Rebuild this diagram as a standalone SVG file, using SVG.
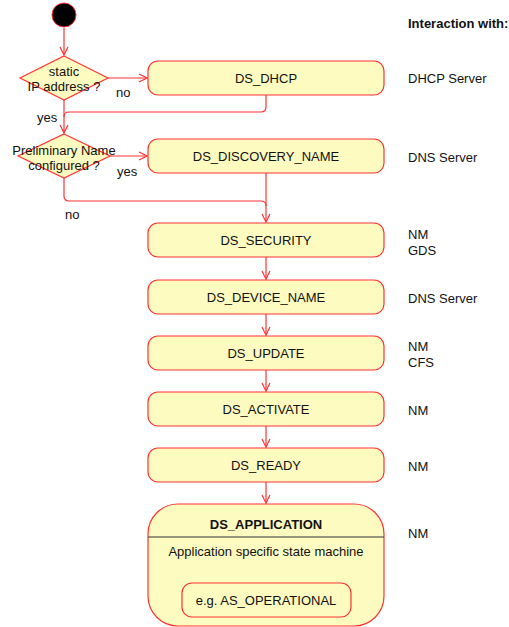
<svg xmlns="http://www.w3.org/2000/svg" width="509" height="627" viewBox="0 0 509 627">
<style>
text{font-family:"Liberation Sans",Arial,sans-serif;font-size:13px;fill:#111}
.c{text-anchor:middle}
.b{font-weight:bold}
.box{fill:#FEFBC0;stroke:#FF3333;stroke-width:1.2}
.ln{fill:none;stroke:#FF3333;stroke-width:1.2}
</style>
<defs>
<marker id="ah" markerWidth="10" markerHeight="10" refX="9" refY="5" orient="auto" markerUnits="userSpaceOnUse">
<path d="M1,1 L9,5 L1,9" fill="none" stroke="#FF3333" stroke-width="1.2"/>
</marker>
</defs>
<rect width="509" height="627" fill="#fff"/>
<g id="connectors">
<path class="ln" d="M64,28 V55" marker-end="url(#ah)"/>
<path class="ln" d="M108,78 H147" marker-end="url(#ah)"/>
<path class="ln" d="M266,95 V107 Q266,112 261,112 H69 Q64,112 64,117"/>
<path class="ln" d="M64,100 V133" marker-end="url(#ah)"/>
<path class="ln" d="M110,156 H147" marker-end="url(#ah)"/>
<path class="ln" d="M64,178 V196 Q64,201 69,201 H261 Q266,201 266,206"/>
<path class="ln" d="M266,173 V222" marker-end="url(#ah)"/>
<path class="ln" d="M266,257 V279" marker-end="url(#ah)"/>
<path class="ln" d="M266,314 V335" marker-end="url(#ah)"/>
<path class="ln" d="M266,370 V391" marker-end="url(#ah)"/>
<path class="ln" d="M266,426 V447" marker-end="url(#ah)"/>
<path class="ln" d="M266,482 V503" marker-end="url(#ah)"/>
<text x="116" y="97">no</text>
<text x="37" y="122">yes</text>
<text x="117" y="176">yes</text>
<text x="65" y="219">no</text>
</g>
<g id="start"><circle cx="64" cy="15" r="12" fill="#000" stroke="#FF3333" stroke-width="1"/></g>
<g id="dec_ip">
<polygon class="box" points="64,56 108,78 64,100 20,78"/>
<text class="c" x="64" y="76">static</text>
<text class="c" x="64" y="91">IP address ?</text>
</g>
<g id="dec_name">
<polygon class="box" points="64,134 110,156 64,178 18,156"/>
<text class="c" x="64" y="155">Preliminary Name</text>
<text class="c" x="64" y="170">configured ?</text>
</g>
<g id="ds_dhcp"><rect class="box" x="148" y="61" width="236" height="34" rx="10"/><text class="c" x="266" y="83">DS_DHCP</text></g>
<g id="ds_discovery_name"><rect class="box" x="148" y="139" width="236" height="34" rx="10"/><text class="c" x="266" y="161">DS_DISCOVERY_NAME</text></g>
<g id="ds_security"><rect class="box" x="148" y="223" width="236" height="34" rx="10"/><text class="c" x="266" y="245">DS_SECURITY</text></g>
<g id="ds_device_name"><rect class="box" x="148" y="280" width="236" height="34" rx="10"/><text class="c" x="266" y="302">DS_DEVICE_NAME</text></g>
<g id="ds_update"><rect class="box" x="148" y="336" width="236" height="34" rx="10"/><text class="c" x="266" y="358">DS_UPDATE</text></g>
<g id="ds_activate"><rect class="box" x="148" y="392" width="236" height="34" rx="10"/><text class="c" x="266" y="414">DS_ACTIVATE</text></g>
<g id="ds_ready"><rect class="box" x="148" y="448" width="236" height="34" rx="10"/><text class="c" x="266" y="470">DS_READY</text></g>
<g id="ds_application">
<rect class="box" x="148" y="504" width="236" height="122" rx="30"/>
<line x1="148" y1="537" x2="384" y2="537" stroke="#333" stroke-width="1"/>
<text class="c b" x="266" y="529">DS_APPLICATION</text>
<text class="c" x="266" y="556">Application specific state machine</text>
<g id="as_operational"><rect class="box" x="182" y="583" width="169" height="34" rx="10"/><text class="c" x="266" y="605">e.g. AS_OPERATIONAL</text></g>
</g>
<g id="interaction">
<text class="b" x="408" y="28">Interaction with:</text>
<text x="408" y="83">DHCP Server</text>
<text x="408" y="162">DNS Server</text>
<text x="408" y="239">NM</text>
<text x="408" y="255">GDS</text>
<text x="408" y="303">DNS Server</text>
<text x="408" y="351">NM</text>
<text x="408" y="367">CFS</text>
<text x="408" y="415">NM</text>
<text x="408" y="471">NM</text>
<text x="408" y="538">NM</text>
</g>
</svg>
